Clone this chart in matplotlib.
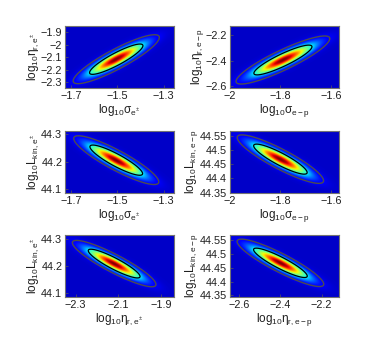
import numpy as np
import matplotlib
matplotlib.use("Agg")
import matplotlib.pyplot as plt

plt.rcParams["font.family"] = ["Liberation Sans", "DejaVu Sans"]
plt.rcParams["mathtext.fontset"] = "custom"
plt.rcParams["mathtext.rm"] = "Liberation Sans"
plt.rcParams["mathtext.it"] = "Liberation Sans"
plt.rcParams["mathtext.bf"] = "Liberation Sans:bold"

# posterior summaries per panel (reading order): means, widths, correlation
mean_x = [-1.505, -1.79, -1.505, -1.80, -2.12, -2.40]
mean_y = [-2.115, -2.395, 44.205, 44.468, 44.21, 44.468]
sig_x = [0.076, 0.076, 0.075, 0.070, 0.080, 0.086]
sig_y = [0.080, 0.077, 0.036, 0.035, 0.035, 0.035]
rho = [0.89, 0.89, -0.89, -0.89, -0.90, -0.90]

xlims = [(-1.726, -1.256), (-2.0, -1.568), (-1.726, -1.256),
         (-2.0, -1.568), (-2.35, -1.84), (-2.645, -2.116)]
ylims = [(-2.346, -1.85), (-2.615, -2.129), (44.087, 44.311),
         (44.349, 44.568), (44.087, 44.316), (44.345, 44.569)]
xticks = [[-1.7, -1.5, -1.3], [-2, -1.8, -1.6], [-1.7, -1.5, -1.3],
          [-2, -1.8, -1.6], [-2.3, -2.1, -1.9], [-2.6, -2.4, -2.2]]
yticks = [[-2.3, -2.2, -2.1, -2, -1.9], [-2.6, -2.4, -2.2], [44.1, 44.2, 44.3],
          [44.35, 44.4, 44.45, 44.5, 44.55], [44.1, 44.2, 44.3],
          [44.35, 44.4, 44.45, 44.5, 44.55]]
xlabels = [r"log$_{10}\sigma_{e^{\pm}}$", r"log$_{10}\sigma_{e-p}$",
           r"log$_{10}\sigma_{e^{\pm}}$", r"log$_{10}\sigma_{e-p}$",
           r"log$_{10}\eta_{r,e^{\pm}}$", r"log$_{10}\eta_{r,e-p}$"]
ylabels = [r"log$_{10}\eta_{r,e^{\pm}}$", r"log$_{10}\eta_{r,e-p}$",
           r"log$_{10}$L$_{kin,e^{\pm}}$", r"log$_{10}$L$_{kin,e-p}$",
           r"log$_{10}$L$_{kin,e^{\pm}}$", r"log$_{10}$L$_{kin,e-p}$"]

fig = plt.figure(figsize=(3.74, 3.48), dpi=100)
lefts = [0.174, 0.615]
bottoms = [0.747, 0.446, 0.147]
w, h = 0.291, 0.178

for i in range(6):
    ax = fig.add_axes([lefts[i % 2], bottoms[i // 2], w, h])
    x0, x1 = xlims[i]
    y0, y1 = ylims[i]
    xx, yy = np.meshgrid(np.linspace(x0, x1, 300), np.linspace(y0, y1, 300))
    dx = (xx - mean_x[i]) / sig_x[i]
    dy = (yy - mean_y[i]) / sig_y[i]
    r = rho[i]
    m2 = (dx**2 - 2 * r * dx * dy + dy**2) / (1 - r**2)
    dens = np.exp(-0.5 * m2)
    ax.imshow(dens, extent=[x0, x1, y0, y1], origin="lower", aspect="auto",
              cmap="jet", vmin=-0.07, vmax=1.0, interpolation="bilinear")
    ax.contour(xx, yy, m2, levels=[2.30], colors="k", linewidths=0.9)
    ax.contour(xx, yy, m2, levels=[5.99], colors="0.3", linewidths=1.0)
    ax.set_xlim(x0, x1)
    ax.set_ylim(y0, y1)
    ax.set_xticks(xticks[i])
    ax.set_yticks(yticks[i])
    ax.set_xticklabels([f"{t:g}".replace("-", "\u2212") for t in xticks[i]])
    ax.set_yticklabels([f"{t:g}".replace("-", "\u2212") for t in yticks[i]])
    ax.tick_params(direction="in", length=2, width=0.5, labelsize=7.8,
                   colors="0.35", labelcolor="0.12", pad=2)
    for s in ax.spines.values():
        s.set_color("0.45")
        s.set_linewidth(0.8)
    ax.set_xlabel(xlabels[i], fontsize=8.5, color="0.12", labelpad=1)
    ax.set_ylabel(ylabels[i], fontsize=8.5, color="0.12", labelpad=0)

fig.savefig("out.png", dpi=100)
